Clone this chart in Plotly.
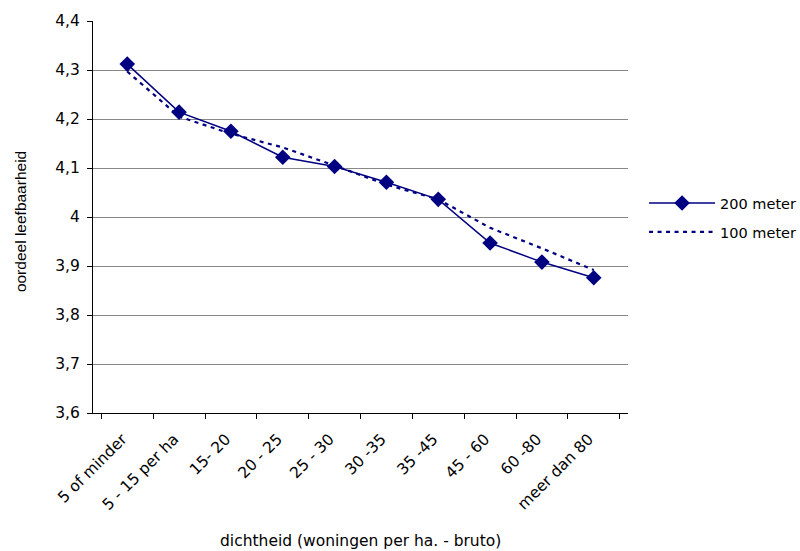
import plotly.graph_objects as go

categories = ["5 of minder", "5 - 15 per ha", "15- 20", "20 - 25", "25 - 30",
              "30 -35", "35 -45", "45 - 60", "60 -80", "meer dan 80"]
m200 = [4.312, 4.214, 4.175, 4.122, 4.103, 4.071, 4.036, 3.947, 3.908, 3.876]
m100 = [4.297, 4.205, 4.170, 4.142, 4.105, 4.066, 4.036, 3.978, 3.936, 3.892]
y_ticks = [3.6, 3.7, 3.8, 3.9, 4.0, 4.1, 4.2, 4.3, 4.4]
y_labels = ["3,6", "3,7", "3,8", "3,9", "4", "4,1", "4,2", "4,3", "4,4"]
x_title = "dichtheid (woningen per ha. - bruto)"
y_title = "oordeel leefbaarheid"

navy = "#000080"
wide = "DejaVu Sans, sans-serif"
narrow = "Liberation Sans, Arial, sans-serif"
fs = 15.5

fig = go.Figure()
fig.add_trace(go.Scatter(x=categories, y=m200, name="200 meter", mode="lines+markers",
                         line=dict(color=navy, width=1.5),
                         marker=dict(symbol="diamond", size=12, color=navy),
                         legend="legend"))
fig.add_trace(go.Scatter(x=categories, y=m100, name="100 meter", mode="lines",
                         line=dict(color=navy, width=2.2, dash="4px,4.5px"),
                         legend="legend2"))

leg_common = dict(xanchor="left", yanchor="middle", font=dict(size=14.5, family=wide),
                  itemwidth=66, bgcolor="rgba(0,0,0,0)")
fig.update_layout(
    width=800, height=551,
    margin=dict(l=93, r=172, t=21, b=138, autoexpand=False),
    paper_bgcolor="white", plot_bgcolor="white",
    font=dict(family=wide, size=fs, color="black"),
    showlegend=True,
    hovermode=False,
    legend=dict(x=1.03, y=0.5357, **leg_common),
    legend2=dict(x=1.03, y=0.4617, **leg_common),
    xaxis=dict(type="category", tickangle=-45, tickson="boundaries",
               ticks="outside", ticklen=5, tickcolor="black",
               showline=True, linecolor="black", linewidth=1,
               showgrid=False, automargin=False,
               ticklabelstandoff=10, ticklabelshift=-5,
               tickfont=dict(size=fs, family=wide)),
    yaxis=dict(range=[3.6, 4.4], tickvals=y_ticks, ticktext=y_labels,
               ticks="outside", ticklen=5, tickcolor="black",
               showline=True, linecolor="black", linewidth=1,
               showgrid=True, gridcolor="#888888", gridwidth=1,
               zeroline=False, automargin=False, ticklabelstandoff=4,
               tickfont=dict(size=fs, family=wide)),
    annotations=[
        dict(text=x_title, xref="paper", yref="paper", x=0.5, y=-0.3265,
             xanchor="center", yanchor="middle", showarrow=False,
             font=dict(size=fs, family=wide)),
        dict(text=y_title, xref="paper", yref="paper", x=-0.1364, y=0.487,
             xanchor="center", yanchor="middle", showarrow=False, textangle=-90,
             font=dict(size=fs, family=narrow)),
    ],
)
fig.write_html("out.html", config={"displayModeBar": False},
               post_script="document.body.style.margin='0';document.body.style.overflow='hidden';")
